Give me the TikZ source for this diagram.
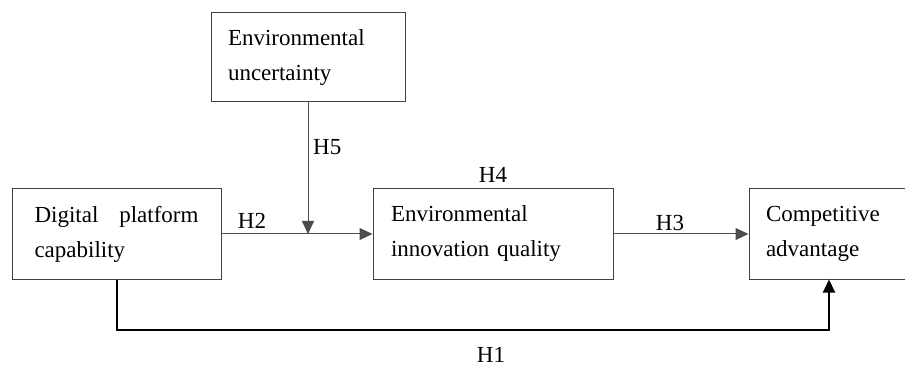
\documentclass[tikz,border=0pt]{standalone}
\usepackage{fontspec}
\setmainfont{Liberation Serif}
\usepackage{tikz}
\usetikzlibrary{arrows.meta, positioning, calc}

\begin{document}
\begin{tikzpicture}[
      x=1pt, y=1pt,
      node distance = 151pt and 151pt,
      font=\fontsize{23}{35}\selectfont,
      base/.style = {draw=black!75, line width=1pt, rectangle, minimum height=90pt, inner sep=0pt, align=left},
      % --- Estilos de Blocos ---
      var/.style = {base, minimum width=240pt, text width=204pt},
      mod/.style = {base, minimum width=194pt, minimum height=89pt, text width=160pt},
      arrow/.style = {line width=1pt, draw=black!70, -{Triangle[length=13pt, width=12pt]}},
      hyp/.style = {inner sep=0pt, anchor=base}
    ]
      \useasboundingbox (0,0) rectangle (905,-366);

      % --- VARIAVEIS PRINCIPAIS ---
      \node [var, minimum width=209pt, text width=164pt, align=justify] (dpc) at (116.5,-234) {Digital platform capability};
      \node [var, right=of dpc] (eiq) {Environmental\\innovation quality};
      \node [var, minimum width=160pt, text width=126pt, right=135pt of eiq] (ca) {Competitive\\advantage};

      % --- MODERADOR ---
      \node [mod] (eu) at (308,-57.5) {Environmental\\uncertainty};
      \coordinate (mid) at (eu.south |- dpc.east);

      % Conexoes
      \draw [arrow] (dpc.east) -- (eiq.west);
      \draw [arrow] (eu.south) -- (mid);
      \draw [arrow] (eiq.east) -- (ca.west);
      \draw [-{Triangle[length=13pt, width=12pt]}, line width=2pt] (dpc.south) -- ++(0,-50) -| (ca.south);

      % Hipoteses
      \node [hyp] (h2) at (252,-229) {H2};
      \node [hyp, anchor=base west] (h5) at (313,-155) {H5};
      \node [hyp] (h4) at (eiq.north |- 0,-183) {H4};
      \node [hyp] (h3) at (670,-230) {H3};
      \node [hyp] (h1) at (491,-362) {H1};

    \end{tikzpicture}
\end{document}
